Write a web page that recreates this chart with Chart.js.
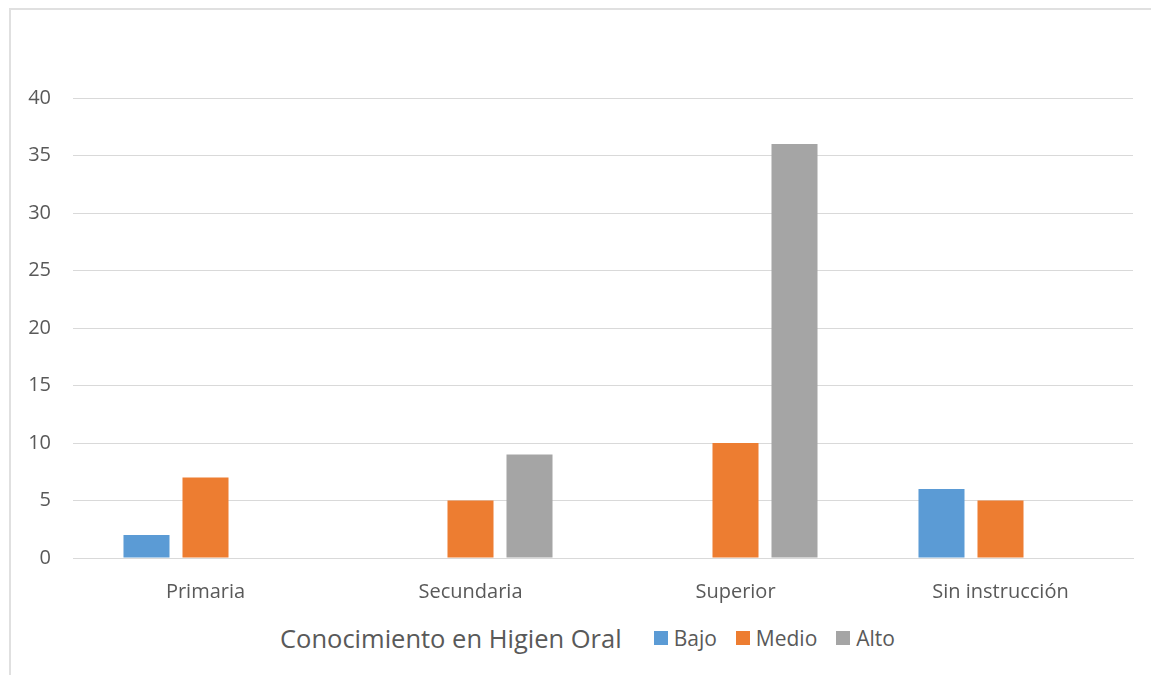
<!DOCTYPE html>
<html lang="es">
<head>
<meta charset="utf-8">
<title>Conocimiento en Higien Oral</title>
<script src="https://cdn.jsdelivr.net/npm/chart.js@4.4.1/dist/chart.umd.min.js"></script>
<style>
  html, body { margin: 0; padding: 0; background: #fff; }
  body { width: 1151px; height: 675px; position: relative; overflow: hidden; font-family: "Open Sans", sans-serif; }
  .frame { position: absolute; left: 9px; top: 8px; width: 1200px; height: 720px; border-top: 2px solid #e0e0e0; border-left: 2px solid #e0e0e0; }
  #chart { position: absolute; left: 0; top: 0; }
  .legend-row { position: absolute; left: 280px; top: 621px; display: flex; align-items: center; color: #595959; }
  .legend-row .axis-title { font-size: 25.5px; margin-right: 32px; }
  .legend-row ul { list-style: none; margin: 0; padding: 0; display: flex; align-items: center; }
  .legend-row li { display: flex; align-items: center; font-size: 21px; margin-right: 19px; }
  .legend-row li span.box { width: 14px; height: 14px; margin-right: 6px; display: inline-block; }
</style>
</head>
<body>
<div class="frame"></div>
<canvas id="chart" width="1151" height="620"></canvas>
<div class="legend-row">
  <div class="axis-title">Conocimiento en Higien Oral</div>
  <ul id="legend"></ul>
</div>
<script>
const categories = ['Primaria', 'Secundaria', 'Superior', 'Sin instrucción'];
const bajo = [2, 0, 0, 6];
const medio = [7, 5, 10, 5];
const alto = [0, 9, 36, 0];
const yTicks = [0, 5, 10, 15, 20, 25, 30, 35, 40];

const textColor = '#595959';
const gridColor = '#d9d9d9';

// legend drawn as html next to the axis title
const htmlLegend = {
  id: 'htmlLegend',
  afterUpdate(chart) {
    const ul = document.getElementById('legend');
    ul.innerHTML = '';
    chart.options.plugins.legend.labels.generateLabels(chart).forEach(item => {
      const li = document.createElement('li');
      const box = document.createElement('span');
      box.className = 'box';
      box.style.background = item.fillStyle;
      li.appendChild(box);
      li.appendChild(document.createTextNode(item.text));
      ul.appendChild(li);
    });
  }
};

new Chart(document.getElementById('chart'), {
  type: 'bar',
  data: {
    labels: categories,
    datasets: [
      { label: 'Bajo', data: bajo, backgroundColor: '#5B9BD5' },
      { label: 'Medio', data: medio, backgroundColor: '#ED7D31' },
      { label: 'Alto', data: alto, backgroundColor: '#A5A5A5' }
    ]
  },
  options: {
    responsive: false,
    animation: false,
    layout: { padding: { top: 98, right: 18, bottom: 12, left: 0 } },
    datasets: {
      bar: { categoryPercentage: 0.668, barPercentage: 0.78, borderWidth: 0 }
    },
    plugins: {
      legend: { display: false },
      tooltip: { enabled: false }
    },
    scales: {
      x: {
        grid: { display: false },
        border: { display: true, color: gridColor, width: 1 },
        ticks: { color: textColor, padding: 14, font: { family: 'Open Sans', size: 20 } },
        afterFit(scale) { scale.height = 50; }
      },
      y: {
        min: 0,
        max: 40,
        afterBuildTicks(scale) { scale.ticks = yTicks.map(v => ({ value: v })); },
        grid: { color: gridColor, lineWidth: 1, drawTicks: false },
        border: { display: false },
        ticks: { color: textColor, padding: 22, font: { family: 'Open Sans', size: 20 } },
        afterFit(scale) { scale.width = 73; }
      }
    }
  },
  plugins: [htmlLegend]
});
</script>
</body>
</html>
